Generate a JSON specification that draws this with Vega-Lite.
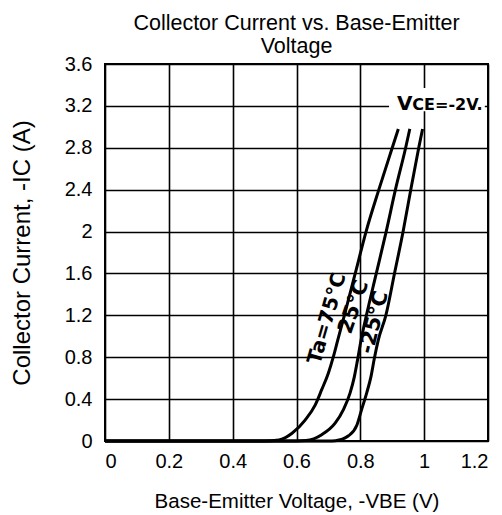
{
  "$schema": "https://vega.github.io/schema/vega-lite/v6.json",
  "autosize": {"type": "none"},
  "width": 383,
  "height": 377,
  "padding": {"left": 105, "top": 64, "right": 14, "bottom": 74},
  "background": "white",
  "config": {
    "font": "Liberation Sans",
    "view": {"stroke": "black", "strokeWidth": 2},
    "axis": {
      "labelFont": "Liberation Sans",
      "titleFont": "Liberation Sans",
      "labelColor": "black",
      "titleColor": "black",
      "labelFontSize": 20,
      "titleFontWeight": "normal",
      "ticks": false,
      "domain": false,
      "grid": true,
      "gridColor": "black",
      "gridWidth": 1.6,
      "gridOpacity": 1
    }
  },
  "title": {
    "text": ["Collector Current vs. Base-Emitter", "Voltage"],
    "font": "Liberation Sans",
    "fontSize": 21.5,
    "fontWeight": "normal",
    "color": "black",
    "lineHeight": 23,
    "anchor": "middle",
    "offset": -3
  },
  "datasets": {
    "curves": [
      {"t": "75", "k": 0, "v": 0, "i": 0},
      {"t": "75", "k": 1, "v": 0.5, "i": 0},
      {"t": "75", "k": 2, "v": 0.545, "i": 0.01},
      {"t": "75", "k": 3, "v": 0.586, "i": 0.074},
      {"t": "75", "k": 4, "v": 0.627, "i": 0.2},
      {"t": "75", "k": 5, "v": 0.658, "i": 0.34},
      {"t": "75", "k": 6, "v": 0.679, "i": 0.49},
      {"t": "75", "k": 7, "v": 0.7, "i": 0.65},
      {"t": "75", "k": 8, "v": 0.716, "i": 0.81},
      {"t": "75", "k": 9, "v": 0.729, "i": 0.96},
      {"t": "75", "k": 10, "v": 0.75, "i": 1.2},
      {"t": "75", "k": 11, "v": 0.784, "i": 1.6},
      {"t": "75", "k": 12, "v": 0.818, "i": 2.0},
      {"t": "75", "k": 13, "v": 0.858, "i": 2.4},
      {"t": "75", "k": 14, "v": 0.9, "i": 2.8},
      {"t": "75", "k": 15, "v": 0.919, "i": 2.98},
      {"t": "25", "k": 0, "v": 0, "i": 0},
      {"t": "25", "k": 1, "v": 0.6, "i": 0},
      {"t": "25", "k": 2, "v": 0.63, "i": 0.004},
      {"t": "25", "k": 3, "v": 0.679, "i": 0.06},
      {"t": "25", "k": 4, "v": 0.721, "i": 0.17},
      {"t": "25", "k": 5, "v": 0.747, "i": 0.3},
      {"t": "25", "k": 6, "v": 0.768, "i": 0.46},
      {"t": "25", "k": 7, "v": 0.781, "i": 0.61},
      {"t": "25", "k": 8, "v": 0.791, "i": 0.77},
      {"t": "25", "k": 9, "v": 0.802, "i": 0.96},
      {"t": "25", "k": 10, "v": 0.819, "i": 1.2},
      {"t": "25", "k": 11, "v": 0.85, "i": 1.6},
      {"t": "25", "k": 12, "v": 0.881, "i": 2.0},
      {"t": "25", "k": 13, "v": 0.91, "i": 2.4},
      {"t": "25", "k": 14, "v": 0.942, "i": 2.8},
      {"t": "25", "k": 15, "v": 0.955, "i": 2.98},
      {"t": "-25", "k": 0, "v": 0, "i": 0},
      {"t": "-25", "k": 1, "v": 0.7, "i": 0},
      {"t": "-25", "k": 2, "v": 0.722, "i": 0.003},
      {"t": "-25", "k": 3, "v": 0.763, "i": 0.05},
      {"t": "-25", "k": 4, "v": 0.789, "i": 0.15},
      {"t": "-25", "k": 5, "v": 0.804, "i": 0.3},
      {"t": "-25", "k": 6, "v": 0.82, "i": 0.46},
      {"t": "-25", "k": 7, "v": 0.833, "i": 0.61},
      {"t": "-25", "k": 8, "v": 0.844, "i": 0.79},
      {"t": "-25", "k": 9, "v": 0.856, "i": 0.96},
      {"t": "-25", "k": 10, "v": 0.88, "i": 1.2},
      {"t": "-25", "k": 11, "v": 0.907, "i": 1.6},
      {"t": "-25", "k": 12, "v": 0.934, "i": 2.0},
      {"t": "-25", "k": 13, "v": 0.958, "i": 2.4},
      {"t": "-25", "k": 14, "v": 0.983, "i": 2.8},
      {"t": "-25", "k": 15, "v": 0.995, "i": 2.98}
    ],
    "labels": [
      {"id": "a", "txt": "Ta=75°C", "v": 0.696, "i": 1.17},
      {"id": "b", "txt": "25°C", "v": 0.78, "i": 1.28},
      {"id": "c", "txt": "-25°C", "v": 0.844, "i": 1.13}
    ],
    "vce": [
      {"v1": 0.89, "v2": 1.19, "i1": 3.15, "i2": 3.37, "vv": 0.915, "vc": 0.963, "ib": 3.16}
    ]
  },
  "layer": [
    {
      "data": {"name": "vce"},
      "mark": {"type": "rect", "fill": "white", "stroke": null},
      "encoding": {
        "x": {"field": "v1", "type": "quantitative", "scale": {"domain": [0, 1.2], "nice": false},
              "axis": {"values": [0, 0.2, 0.4, 0.6, 0.8, 1, 1.2], "format": "~g", "labelPadding": 10, "title": "Base-Emitter Voltage, -VBE (V)", "titleFontSize": 20.5, "titlePadding": 20}},
        "x2": {"field": "v2"},
        "y": {"field": "i1", "type": "quantitative", "scale": {"domain": [0, 3.6], "nice": false},
              "axis": {"values": [0, 0.4, 0.8, 1.2, 1.6, 2, 2.4, 2.8, 3.2, 3.6], "format": "~g", "labelPadding": 13, "title": "Collector Current, -IC (A)", "titleFontSize": 24, "titlePadding": 30}},
        "y2": {"field": "i2"}
      }
    },
    {
      "data": {"name": "curves"},
      "mark": {"type": "line", "color": "black", "strokeWidth": 3, "interpolate": "monotone"},
      "encoding": {
        "x": {"field": "v", "type": "quantitative"},
        "y": {"field": "i", "type": "quantitative"},
        "detail": {"field": "t"},
        "order": {"field": "k", "type": "quantitative"}
      }
    },
    {
      "data": {"name": "labels"},
      "transform": [{"filter": "datum.id === 'a'"}],
      "mark": {"type": "text", "font": "DejaVu Sans", "fontWeight": "bold", "fontSize": 20, "angle": -74, "align": "center", "baseline": "middle", "color": "black"},
      "encoding": {"x": {"field": "v", "type": "quantitative"}, "y": {"field": "i", "type": "quantitative"}, "text": {"field": "txt"}}
    },
    {
      "data": {"name": "labels"},
      "transform": [{"filter": "datum.id === 'b'"}],
      "mark": {"type": "text", "font": "DejaVu Sans", "fontWeight": "bold", "fontSize": 21, "angle": -71, "align": "center", "baseline": "middle", "color": "black"},
      "encoding": {"x": {"field": "v", "type": "quantitative"}, "y": {"field": "i", "type": "quantitative"}, "text": {"field": "txt"}}
    },
    {
      "data": {"name": "labels"},
      "transform": [{"filter": "datum.id === 'c'"}],
      "mark": {"type": "text", "font": "DejaVu Sans", "fontWeight": "bold", "fontSize": 21, "angle": -76, "align": "center", "baseline": "middle", "color": "black"},
      "encoding": {"x": {"field": "v", "type": "quantitative"}, "y": {"field": "i", "type": "quantitative"}, "text": {"field": "txt"}}
    },
    {
      "data": {"name": "vce"},
      "mark": {"type": "text", "font": "DejaVu Sans", "fontWeight": "bold", "fontSize": 20, "align": "left", "baseline": "alphabetic", "color": "black", "text": "V"},
      "encoding": {"x": {"field": "vv", "type": "quantitative"}, "y": {"field": "ib", "type": "quantitative"}}
    },
    {
      "data": {"name": "vce"},
      "mark": {"type": "text", "font": "DejaVu Sans", "fontWeight": "bold", "fontSize": 16, "align": "left", "baseline": "alphabetic", "color": "black", "text": "CE=-2V."},
      "encoding": {"x": {"field": "vc", "type": "quantitative"}, "y": {"field": "ib", "type": "quantitative"}}
    }
  ]
}
